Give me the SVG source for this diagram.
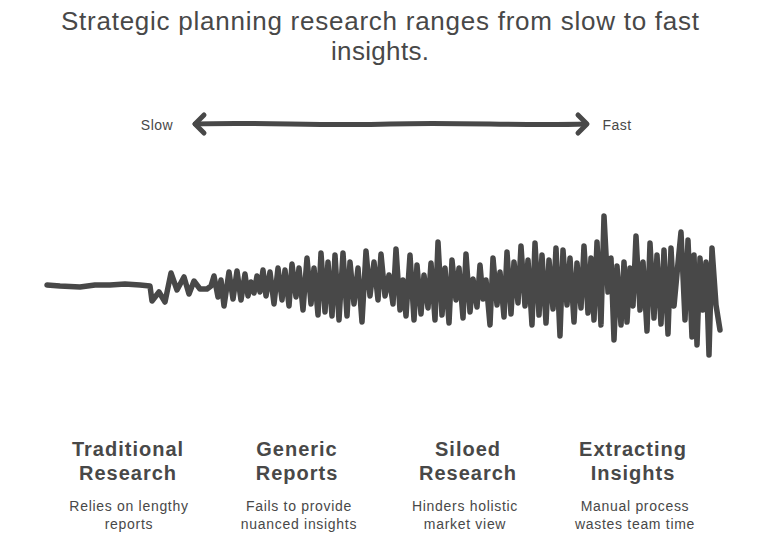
<svg xmlns="http://www.w3.org/2000/svg" width="768" height="540" viewBox="0 0 768 540">
<style>
text{font-family:"Liberation Sans",Arial,sans-serif;fill:#484848;text-anchor:middle}
.title{font-size:26px}
.axis{font-size:14px;letter-spacing:0.5px}
.head{font-size:20px;font-weight:bold;letter-spacing:1px}
.desc{font-size:14px;letter-spacing:0.7px}
.ln{fill:none;stroke:#484848;stroke-linecap:round;stroke-linejoin:round}
</style>
<rect width="768" height="540" fill="#ffffff"/>
<g id="title">
<text class="title" x="380" y="30" textLength="638" lengthAdjust="spacing">Strategic planning research ranges from slow to fast</text>
<text class="title" x="380" y="60" textLength="98" lengthAdjust="spacing">insights.</text>
</g>
<g id="connectors">
<path class="ln" stroke-width="5" d="M195,124 C260,122 320,126 390,124 C460,122 520,126 586,124"/>
<path class="ln" stroke-width="5" d="M204,115 L195,124 L204,133"/>
<path class="ln" stroke-width="5" d="M578,115 L587,124 L578,133"/>
</g>
<g id="slow"><text class="axis" x="157" y="130">Slow</text></g>
<g id="fast"><text class="axis" x="617" y="130">Fast</text></g>
<g id="waveform">
<polyline class="ln" stroke-width="5.5" points="47,285 60,286 80,287 95,285 110,285 125,284 140,285 150,286 152,301 159,292 165,302 171,273 177,290 184,277 189,294 194,281 200,289 207,289 211,286 214,276 218,297 221,280 224,306 229,272 233,299 237,271 241,300 245,274 248,296 251,282 254,293 257,276 260,292 263,270 266,296 270,272 274,304 278,268 282,300 285,270 289,306 292,264 296,297 299,268 303,310 307,258 311,304 314,268 318,315 321,253 325,312 328,262 332,316 335,255 339,320 343,253 347,316 350,262 354,304 358,268 362,322 366,251 370,296 374,262 378,300 381,254 385,296 389,275 393,304 396,249 400,310 403,280 406,316 410,255 414,320 417,265 421,314 424,275 428,308 431,263 435,320 438,242 442,315 445,268 449,323 452,260 456,300 459,268 463,318 466,254 470,312 473,279 477,307 480,265 483,299 486,280 490,325 493,258 497,305 500,272 504,317 507,252 511,314 514,262 518,303 521,246 525,306 528,260 532,325 535,243 539,315 542,255 546,323 549,260 553,309 556,248 560,336 563,250 567,305 570,258 574,322 577,263 581,308 584,246 588,313 591,258 594,320 597,242 601,325 604,216 608,292 611,258 614,340 617,266 621,325 624,262 627,322 630,268 633,306 636,236 640,310 643,262 647,331 650,243 654,318 657,255 661,324 664,250 668,334 671,248 674,306 678,263 681,232 685,320 688,240 692,337 694,255 697,345 700,258 703,310 706,262 709,355 712,248 716,305 720,330"/>
</g>
<g id="traditional">
<text class="head" x="128" y="456">Traditional</text>
<text class="head" x="128" y="480">Research</text>
<text class="desc" x="129" y="511">Relies on lengthy</text>
<text class="desc" x="129" y="529">reports</text>
</g>
<g id="generic">
<text class="head" x="297" y="456">Generic</text>
<text class="head" x="297" y="480">Reports</text>
<text class="desc" x="299" y="511">Fails to provide</text>
<text class="desc" x="299" y="529">nuanced insights</text>
</g>
<g id="siloed">
<text class="head" x="468" y="456">Siloed</text>
<text class="head" x="468" y="480">Research</text>
<text class="desc" x="465" y="511">Hinders holistic</text>
<text class="desc" x="465" y="529">market view</text>
</g>
<g id="extracting">
<text class="head" x="633" y="456">Extracting</text>
<text class="head" x="633" y="480">Insights</text>
<text class="desc" x="635" y="511">Manual process</text>
<text class="desc" x="635" y="529">wastes team time</text>
</g>
</svg>
